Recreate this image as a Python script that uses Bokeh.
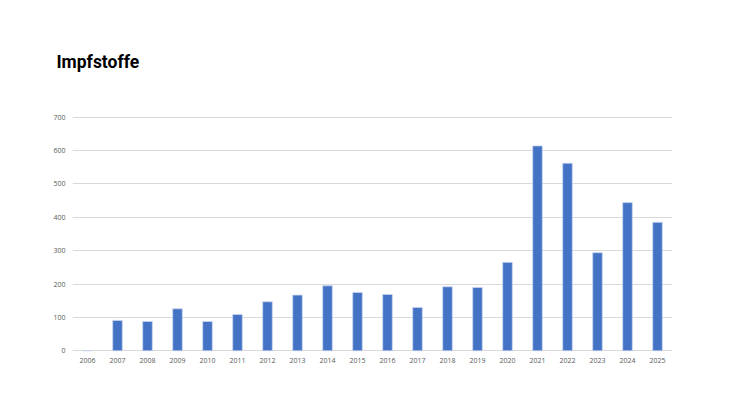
from bokeh.plotting import figure
from bokeh.models import ColumnDataSource, FixedTicker, Range1d
from bokeh.embed import file_html
from bokeh.resources import INLINE

years = [str(y) for y in range(2006, 2026)]
values = [0, 91, 88, 126, 88, 109, 147, 167, 195, 175, 169, 130, 192, 190, 265, 614, 562, 294, 444, 385]
y_ticks = [0, 100, 200, 300, 400, 500, 600, 700]
title_text = "Impfstoffe"

src = ColumnDataSource(data=dict(year=years, value=values))

p = figure(x_range=years, y_range=Range1d(-2, 702), width=714, height=394,
           output_backend="svg", toolbar_location=None,
           min_border_left=72, min_border_right=42, min_border_top=116, min_border_bottom=43)

p.title.text = title_text
p.title.align = "left"
p.title.offset = -16
p.title.text_font = "Roboto"
p.title.text_font_size = "17.5px"
p.title.text_font_style = "bold"
p.title.text_color = "#000000"
p.title.standoff = 89

p.vbar(x="year", top="value", width=0.32, source=src,
       fill_color="#4472C4", line_color="#c9d5ef", line_width=0.8)

p.outline_line_color = None
p.background_fill_color = "white"
p.border_fill_color = "white"

p.xgrid.grid_line_color = None
p.ygrid.grid_line_color = "#d9d9d9"
p.ygrid.grid_line_width = 1
p.yaxis.ticker = FixedTicker(ticks=y_ticks)

for ax in (p.xaxis, p.yaxis):
    ax.axis_line_color = None
    ax.major_tick_line_color = None
    ax.minor_tick_line_color = None
    ax.major_label_text_font = "Open Sans"
    ax.major_label_text_font_size = "7px"
    ax.major_label_text_color = "#595959"

p.xaxis.major_label_standoff = 0
p.yaxis.major_label_standoff = 1
p.x_range.range_padding = 0.0

open("out.html", "w").write(file_html(p, INLINE))
